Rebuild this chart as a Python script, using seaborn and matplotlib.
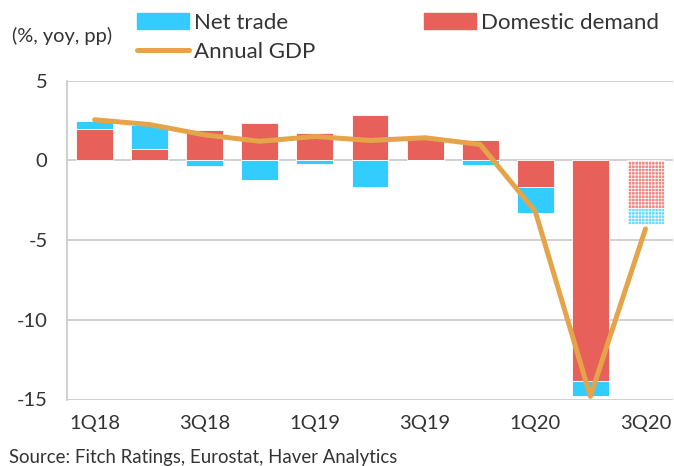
import numpy as np
import pandas as pd
import matplotlib
matplotlib.use("Agg")
import matplotlib.pyplot as plt
import seaborn as sns
from matplotlib.patches import Patch
from matplotlib.lines import Line2D

quarters = ["1Q18", "2Q18", "3Q18", "4Q18", "1Q19", "2Q19", "3Q19", "4Q19", "1Q20", "2Q20", "3Q20"]
domestic = [2.0, 0.7, 1.9, 2.35, 1.75, 2.85, 1.35, 1.25, -1.7, -13.85, -3.0]
net_trade = [0.5, 1.55, -0.35, -1.2, -0.25, -1.65, 0.0, -0.3, -1.6, -0.9, -1.0]
gdp = [2.55, 2.25, 1.6, 1.2, 1.5, 1.25, 1.42, 1.0, -3.2, -14.8, -4.3]
tick_labels = ["1Q18", "3Q18", "1Q19", "3Q19", "1Q20", "3Q20"]

C_NET = "#33CCFF"
C_DOM = "#E8605A"
C_GDP = "#E5A44A"
TXT = "#333333"

sns.set_theme(style="white")
plt.rcParams["font.family"] = ["Lato", "DejaVu Sans"]
plt.rcParams["hatch.linewidth"] = 0.55
plt.rcParams["hatch.color"] = "white"

df = pd.DataFrame({"q": quarters, "dom": domestic, "net": net_trade, "gdp": gdp})
df["net_bottom"] = [d if (d * n) > 0 else 0.0 for d, n in zip(domestic, net_trade)]

fig = plt.figure(figsize=(6.74, 4.66), dpi=100)
ax = fig.add_axes([67 / 674, (466 - 399.5) / 466, 606 / 674, (399.5 - 80.7) / 466])

sns.barplot(data=df, x="q", y="dom", color=C_DOM, width=0.67, ax=ax,
            linewidth=0.6, edgecolor="white", saturation=1)
n = len(quarters)
sns.barplot(data=df, x="q", y="net", color=C_NET, width=0.67, ax=ax,
            bottom=df["net_bottom"], linewidth=0.6, edgecolor="white", saturation=1)

# forecast bar: lighter, fine checker pattern
patches = ax.patches
for p in (patches[n - 1], patches[2 * n - 1]):
    fc = p.get_facecolor()
    light = tuple(0.75 * c + 0.25 for c in fc[:3])
    p.set_facecolor(light)
    p.set_hatch("+" * 5)

sns.lineplot(x=np.arange(n), y=df["gdp"], color=C_GDP, linewidth=3.6, ax=ax,
             solid_capstyle="round", solid_joinstyle="round", zorder=5)

ax.set_xlim(-0.5, n - 0.5)
ax.set_ylim(-15, 5)
ax.set_yticks([5, 0, -5, -10, -15])
ax.set_yticklabels(["5", "0", "-5", "-10", "-15"])
ax.set_xticks([quarters.index(t) for t in tick_labels])
ax.set_xticklabels(tick_labels)
ax.set_xlabel("")
ax.set_ylabel("")
ax.tick_params(axis="y", length=0, pad=14, labelsize=14.5, labelcolor=TXT)
ax.tick_params(axis="x", length=0, pad=11, labelsize=14.5, labelcolor=TXT)

ax.grid(axis="y", color="#C8C8C8", linewidth=1.2)
ax.set_axisbelow(True)
for s in ["top", "right", "bottom"]:
    ax.spines[s].set_visible(False)
ax.spines["left"].set_color("#C8C8C8")
ax.spines["left"].set_linewidth(1.2)

handles = [Patch(color=C_NET), Line2D([0], [0], color=C_GDP, lw=3.6, solid_capstyle="round"),
           Patch(color=C_DOM)]
labels = ["Net trade", "Annual GDP", "Domestic demand"]
fig.legend(handles, labels, ncol=2, loc="upper left", bbox_to_anchor=(137 / 674, 1 - 13 / 466),
           frameon=False, fontsize=16, handlelength=2.35, handletextpad=0.22,
           columnspacing=4.9, labelspacing=0.4, labelcolor=TXT, borderaxespad=0, borderpad=0)

fig.text(12 / 674, 1 - 36 / 466, "(%, yoy, pp)", fontsize=14.4, color=TXT, va="center", ha="left")
fig.text(9 / 674, 1 - 457 / 466, "Source: Fitch Ratings, Eurostat, Haver Analytics",
         fontsize=13.4, color=TXT, va="center", ha="left")

fig.savefig("out.png", dpi=100)
